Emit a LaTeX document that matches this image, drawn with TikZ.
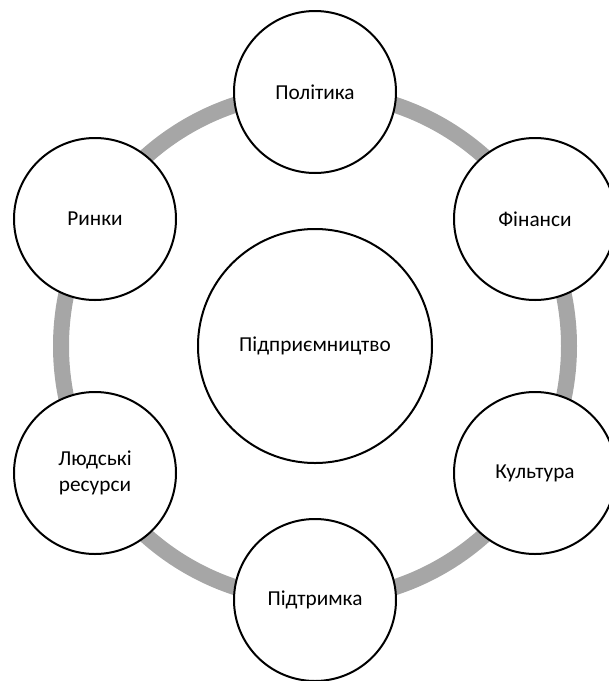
\documentclass[tikz,border=0pt]{standalone}
\usepackage{fontspec}
\setmainfont{Carlito}
\begin{document}
\begin{tikzpicture}[x=1pt,y=-1pt,
  bub/.style={circle,draw=black,line width=2pt,fill=white,minimum size=162pt,inner sep=0pt,align=center,font=\fontsize{21.3}{26}\selectfont},
  hub/.style={bub,minimum size=234pt}]
\useasboundingbox (0,0) rectangle (609,681);
\coordinate (c) at (315,346);
\draw[line width=16pt,color=black!35] (c) circle[radius=254];
\node[hub] (h) at (c) {Підприємництво};
\node[bub] (p) at (315,92) {Політика};
\node[bub] (f) at (535,219) {Фінанси};
\node[bub] (k) at (535,473) {Культура};
\node[bub] (s) at (315,600) {Підтримка};
\node[bub] (l) at (95,473) {Людські\\ресурси};
\node[bub] (r) at (95,219) {Ринки};
\end{tikzpicture}
\end{document}
